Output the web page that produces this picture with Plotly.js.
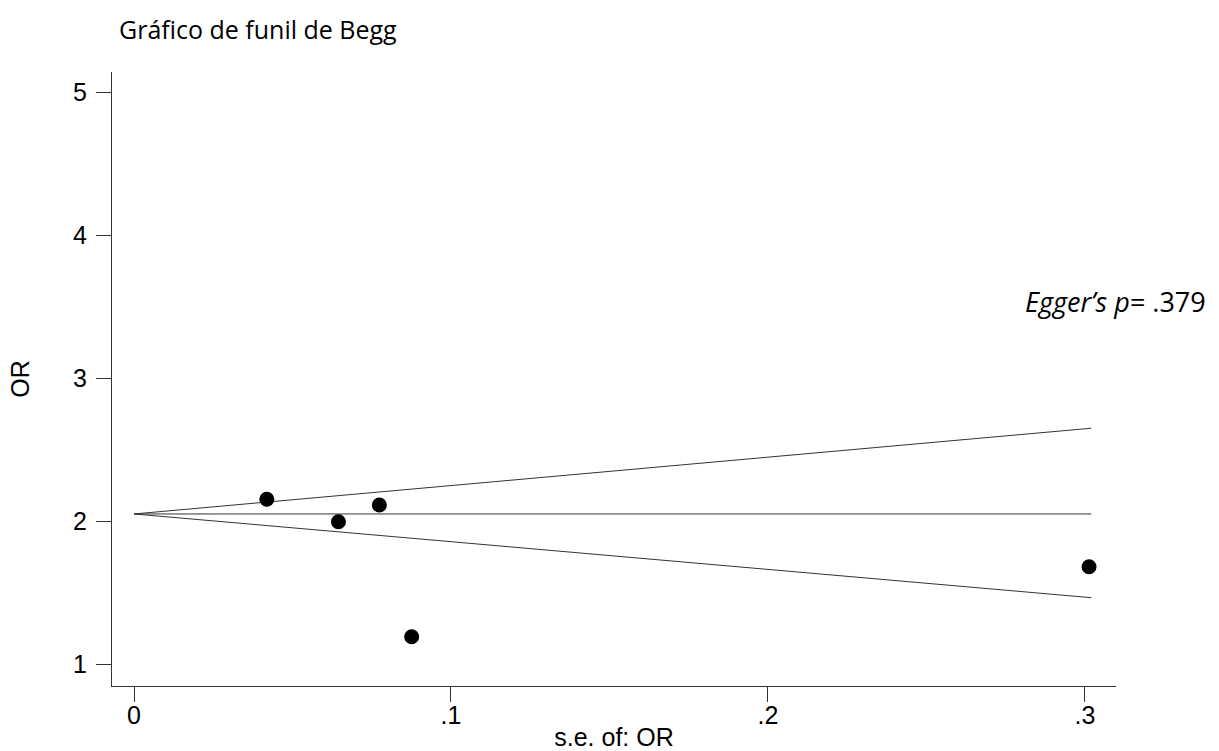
<!DOCTYPE html>
<html>
<head>
<meta charset="utf-8">
<script src="https://cdn.plot.ly/plotly-3.0.1.min.js"></script>
<style>html,body{margin:0;padding:0;background:#fff;}#chart{width:1219px;height:751px;}</style>
</head>
<body>
<div id="chart"></div>
<script>
// Study points: standard error of OR and OR
const studySE = [0.0419, 0.0645, 0.0774, 0.0876, 0.3013];
const studyOR = [2.155, 1.998, 2.115, 1.193, 1.683];

// Funnel (pseudo 95% limits)
const funnelSE = [0, 0.302];
const funnelMid = [2.052, 2.052];
const funnelUpper = [2.052, 2.652];
const funnelLower = [2.052, 1.466];

// Tick labels
const xTickVals = [0, 0.1, 0.2, 0.3];
const xTickText = ['0', '.1', '.2', '.3'];
const yTickVals = [1, 2, 3, 4, 5];
const yTickText = ['1', '2', '3', '4', '5'];

const lineStyle = {color: '#333333', width: 1};

const traces = [
  {x: funnelSE, y: funnelUpper, mode: 'lines', line: lineStyle, hoverinfo: 'skip'},
  {x: funnelSE, y: funnelMid, mode: 'lines', line: lineStyle, hoverinfo: 'skip'},
  {x: funnelSE, y: funnelLower, mode: 'lines', line: lineStyle, hoverinfo: 'skip'},
  {x: studySE, y: studyOR, mode: 'markers', marker: {color: '#000000', size: 15, line: {width: 0}}}
];

const axisFont = {family: 'Liberation Sans, Arial, sans-serif', size: 25, color: '#000'};

const layout = {
  width: 1219, height: 751,
  margin: {l: 112, r: 103, t: 72, b: 65, pad: 0},
  paper_bgcolor: '#ffffff', plot_bgcolor: '#ffffff',
  showlegend: false,
  font: axisFont,
  title: {
    text: 'Gráfico de funil de Begg',
    font: {family: 'Open Sans, sans-serif', size: 25, color: '#000'},
    xref: 'container', yref: 'container',
    x: 119 / 1219, xanchor: 'left',
    y: 1 - 30 / 751, yanchor: 'middle'
  },
  xaxis: {
    range: [-0.00694, 0.3098],
    tickmode: 'array', tickvals: xTickVals, ticktext: xTickText,
    ticks: 'outside', ticklen: 15, tickwidth: 1, tickcolor: '#333',
    showline: true, linecolor: '#333', linewidth: 1,
    showgrid: false, zeroline: false, mirror: false,
    tickfont: axisFont,
    ticklabelstandoff: -8,
    title: {text: 's.e. of: OR', font: axisFont, standoff: 2}
  },
  yaxis: {
    range: [0.848, 5.145],
    tickmode: 'array', tickvals: yTickVals, ticktext: yTickText,
    ticks: 'outside', ticklen: 15, tickwidth: 1, tickcolor: '#333',
    showline: true, linecolor: '#333', linewidth: 1,
    showgrid: false, zeroline: false, mirror: false,
    tickfont: axisFont,
    ticklabelstandoff: 4,
    title: {text: 'OR', font: axisFont, standoff: 36}
  },
  annotations: [{
    text: '<i>Egger’s p</i>= .379',
    xref: 'paper', yref: 'paper',
    x: 0.9074, xanchor: 'left',
    y: 0.626, yanchor: 'middle',
    showarrow: false,
    font: {family: 'Open Sans, sans-serif', size: 27, color: '#000'}
  }]
};

Plotly.newPlot('chart', traces, layout, {displayModeBar: false, staticPlot: true});
</script>
</body>
</html>
